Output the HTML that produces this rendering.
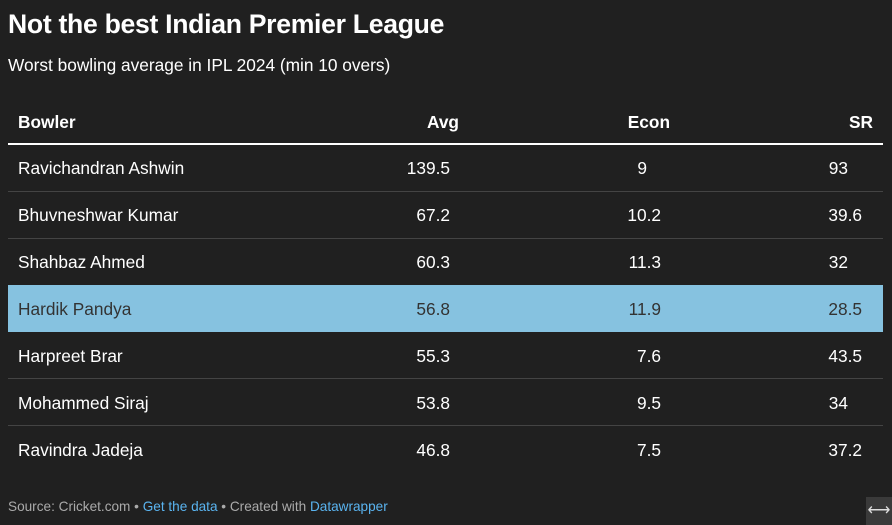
<!DOCTYPE html>
<html><head><meta charset="utf-8"><style>
*{margin:0;padding:0;box-sizing:border-box}
body{width:892px;height:525px;background:#202020;font-family:"Liberation Sans",sans-serif;color:#fff;position:relative;overflow:hidden}
.a{position:absolute;white-space:nowrap}
.t{left:8px;top:9px;font-size:26.6px;font-weight:bold;letter-spacing:-0.3px}
.s{left:8px;top:55px;font-size:17.3px}
.h{font-size:17.3px;font-weight:bold;top:112px}
.c{font-size:17.3px;line-height:20px}
.r{text-align:right}
.line{position:absolute;left:8px;width:875px;height:1px;background:#444}
.hl{position:absolute;left:8px;top:285px;width:875px;height:47px;background:#86c2e0}
.f{left:8px;top:499px;font-size:13.6px;color:#aaa}
.f span{color:#5ab4f0}
.ic{position:absolute;left:866px;top:497px;width:26px;height:28px;background:#3a3a3a;color:#ddd;font-size:16px;text-align:center;line-height:28px}
</style></head><body>
<div class="a t">Not the best Indian Premier League</div>
<div class="a s">Worst bowling average in IPL 2024 (min 10 overs)</div>
<div class="a h" style="left:18px">Bowler</div>
<div class="a h r" style="right:433px">Avg</div>
<div class="a h r" style="right:222px">Econ</div>
<div class="a h r" style="right:19px">SR</div>
<div style="position:absolute;left:8px;top:143px;width:875px;height:2px;background:#fff"></div>
<div class="hl"></div>
<div class="line" style="top:191px"></div>
<div class="line" style="top:238px"></div>
<div class="line" style="top:378px"></div>
<div class="line" style="top:425px"></div>
<div id="rows"></div>
<script>
var d=[["Ravichandran Ashwin","139.5","9","93"],["Bhuvneshwar Kumar","67.2","10.2","39.6"],["Shahbaz Ahmed","60.3","11.3","32"],["Hardik Pandya","56.8","11.9","28.5"],["Harpreet Brar","55.3","7.6","43.5"],["Mohammed Siraj","53.8","9.5","34"],["Ravindra Jadeja","46.8","7.5","37.2"]];
var h="";
d.forEach(function(r,i){var y=158+i*47;var col=i==3?"color:#333;":"";
function v(x,s){var pad=s.indexOf(".")<0?14:0;return '<div class="a c r" style="'+col+'top:'+y+'px;right:'+(892-x+pad)+'px">'+s+'</div>';}
h+='<div class="a c" style="'+col+'top:'+y+'px;left:18px">'+r[0]+'</div>'+v(450,r[1])+v(661,r[2])+v(862,r[3]);});
document.getElementById("rows").innerHTML=h;
</script>
<div class="a f">Source: Cricket.com • <span>Get the data</span> • Created with <span>Datawrapper</span></div>
<div class="ic">⟷</div>
</body></html>
